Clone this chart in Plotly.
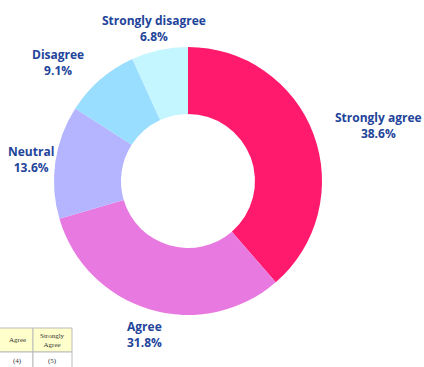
import plotly.graph_objects as go

labels = ["Strongly agree", "Agree", "Neutral", "Disagree", "Strongly disagree"]
counts = [17, 14, 6, 4, 3]
colors = ["#FF1A6E", "#E879E0", "#B4B4FF", "#99DDFF", "#C4F6FF"]
# label centres in pixels (layout only)
label_px = [(378, 126), (144, 334), (31, 159), (58, 63), (154, 28)]

table_headers = ["Agree", "Strongly<br>Agree"]
table_values = ["(4)", "(5)"]

W, H = 424, 367
total = sum(counts)

fig = go.Figure(go.Pie(
    labels=labels, values=counts, hole=0.5, sort=False, direction="clockwise",
    rotation=0, marker=dict(colors=colors, line=dict(width=0)),
    textinfo="none", hoverinfo="label+percent", showlegend=False,
    domain=dict(x=[54 / W, 322 / W], y=[1 - 315 / H, 1 - 47 / H]),
))

anns = []
for lab, c, (px, py) in zip(labels, counts, label_px):
    anns.append(dict(
        x=px / W, y=1 - py / H, xref="paper", yref="paper", showarrow=False,
        text=f"<b>{lab}</b><br><b>{100 * c / total:.1f}%</b>",
        font=dict(family="Open Sans", size=12, color="#22449A"),
        xanchor="center", yanchor="middle", align="center",
    ))

# table fragment in bottom-left
shapes = []
col_edges = [-5, 33, 72]
row_edges = [328, 352, 380]
for i in range(2):
    x0, x1 = col_edges[i], col_edges[i + 1]
    shapes.append(dict(type="rect", xref="paper", yref="paper",
                       x0=x0 / W, x1=x1 / W, y0=1 - row_edges[1] / H, y1=1 - row_edges[0] / H,
                       fillcolor="#FFFFCC", line=dict(color="#BBBBBB", width=1), layer="below"))
    shapes.append(dict(type="rect", xref="paper", yref="paper",
                       x0=x0 / W, x1=x1 / W, y0=1 - row_edges[2] / H, y1=1 - row_edges[1] / H,
                       fillcolor="#FFFFFF", line=dict(color="#BBBBBB", width=1), layer="below"))
    cx = ((x0 + x1) / 2 + (3 if i == 0 else 0)) / W
    anns.append(dict(x=cx, y=1 - (row_edges[0] + row_edges[1]) / 2 / H,
                     xref="paper", yref="paper", showarrow=False, text=table_headers[i],
                     font=dict(family="Liberation Serif", size=7, color="#333333"),
                     xanchor="center", yanchor="middle", align="center"))
    anns.append(dict(x=cx, y=1 - 361 / H,
                     xref="paper", yref="paper", showarrow=False, text=table_values[i],
                     font=dict(family="Liberation Serif", size=7, color="#333333"),
                     xanchor="center", yanchor="middle"))

fig.update_layout(
    width=W, height=H, margin=dict(l=0, r=0, t=0, b=0),
    paper_bgcolor="white", plot_bgcolor="white",
    annotations=anns, shapes=shapes,
)
fig.write_html("out.html")
